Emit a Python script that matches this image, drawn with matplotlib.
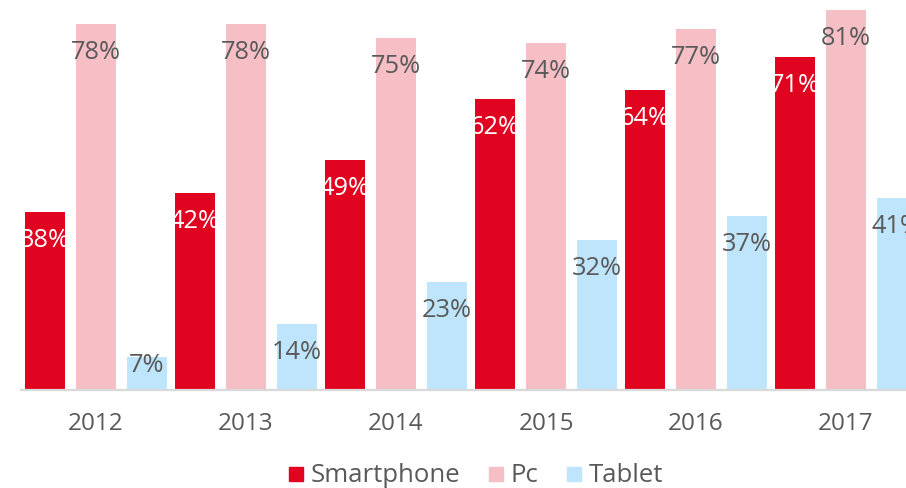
import matplotlib
matplotlib.use("Agg")
import matplotlib.pyplot as plt
from matplotlib.lines import Line2D
import numpy as np

years = ["2012", "2013", "2014", "2015", "2016", "2017"]
smartphone = [38, 42, 49, 62, 64, 71]
pc = [78, 78, 75, 74, 77, 81]
tablet = [7, 14, 23, 32, 37, 41]

series_names = ["Smartphone", "Pc", "Tablet"]
colors = ["#E00420", "#F6BFC6", "#BEE5FB"]
label_colors = ["white", "#595959", "#595959"]

plt.rcParams['font.family'] = ['Open Sans', 'DejaVu Sans']
text_color = "#595959"

fig = plt.figure(figsize=(9.06, 4.88), dpi=100)
px_per_unit = 4.69
ax = fig.add_axes([21/906, 98/488, 900/906, 390/488])
ax.set_xlim(-0.5, 5.5)
ax.set_ylim(0, 390/px_per_unit)

x = np.arange(len(years))
offsets = [-0.34, 0.0, 0.34]
width = 40/150
label_drop = 28.5/px_per_unit
min_label = 24/px_per_unit

for vals, off, col, lc in zip([smartphone, pc, tablet], offsets, colors, label_colors):
    bars = ax.bar(x + off, vals, width=width, color=col, zorder=1)
    for xi, v in zip(x, vals):
        ax.text(xi + off, max(v - label_drop, min_label), f"{v}%", ha="center", va="center",
                fontsize=18.3, color=lc, zorder=3)

for s in ["top", "right", "left"]:
    ax.spines[s].set_visible(False)
ax.spines["bottom"].set_color("#D9D9D9")
ax.spines["bottom"].set_linewidth(1.6)
ax.spines["bottom"].set_zorder(4)
ax.set_yticks([])
ax.set_xticks(x)
ax.set_xticklabels(years, fontsize=17.5, color=text_color)
ax.tick_params(axis="x", length=0, pad=16)

handles = [Line2D([], [], marker="s", linestyle="none", markersize=10.2,
                  markerfacecolor=c, markeredgecolor=c) for c in colors]
fig.legend(handles, series_names, loc="center", bbox_to_anchor=(476/906, 1 - 476/488),
           ncol=3, frameon=False, fontsize=18.5, labelcolor=text_color,
           handlelength=0.55, handletextpad=0.3, columnspacing=1.1, borderpad=0)

fig.savefig("out.png", dpi=100)
